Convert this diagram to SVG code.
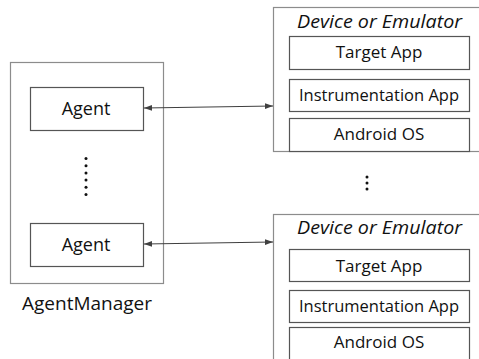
<svg xmlns="http://www.w3.org/2000/svg" width="479" height="359" viewBox="0 0 479 359">
  <style>
    .frame { fill: #ffffff; stroke: #8c8c8c; stroke-width: 1.2; }
    .box { fill: #ffffff; stroke: #555555; stroke-width: 1.2; }
    .label { font-family: "Open Sans", "Noto Sans", sans-serif; font-size: 17px; fill: #111111; text-anchor: middle; }
    .title { font-family: "Open Sans", "Noto Sans", sans-serif; font-size: 18.5px; font-style: italic; fill: #111111; text-anchor: middle; }
    .link { stroke: #404040; stroke-width: 1.1; fill: none; marker-start: url(#head); marker-end: url(#head); }
    .dot { fill: #111111; }
  </style>
  <defs>
    <marker id="head" viewBox="0 0 10 10" refX="10" refY="5" markerWidth="8" markerHeight="8" markerUnits="userSpaceOnUse" orient="auto-start-reverse">
      <path d="M0,1.5 L10,5 L0,8.5 Z" fill="#404040"/>
    </marker>
  </defs>

  <g id="agent-manager">
    <rect class="frame" x="10.5" y="62.5" width="153" height="221"/>
    <text class="label" x="87" y="310" style="font-size:18.5px" textLength="130" lengthAdjust="spacingAndGlyphs">AgentManager</text>
  </g>

  <g id="agent-1">
    <rect class="box" x="30.5" y="87.5" width="113" height="43"/>
    <text class="label" x="86" y="115" style="font-size:18px">Agent</text>
  </g>

  <g id="agent-dots">
    <circle class="dot" cx="86" cy="158.5" r="1.5"/>
    <circle class="dot" cx="86" cy="165.7" r="1.5"/>
    <circle class="dot" cx="86" cy="172.9" r="1.5"/>
    <circle class="dot" cx="86" cy="180.1" r="1.5"/>
    <circle class="dot" cx="86" cy="187.3" r="1.5"/>
    <circle class="dot" cx="86" cy="194.5" r="1.5"/>
  </g>

  <g id="agent-2">
    <rect class="box" x="30.5" y="223.5" width="113" height="43"/>
    <text class="label" x="86" y="251" style="font-size:18px">Agent</text>
  </g>

  <g id="device-1">
    <rect class="frame" x="273.5" y="7.5" width="230" height="144"/>
    <text class="title" x="379.5" y="28" textLength="165" lengthAdjust="spacingAndGlyphs">Device or Emulator</text>
    <rect class="box" x="289.5" y="36.5" width="180" height="33"/>
    <text class="label" x="379" y="58">Target App</text>
    <rect class="box" x="289.5" y="79.5" width="180" height="32"/>
    <text class="label" x="379" y="101" textLength="160" lengthAdjust="spacingAndGlyphs">Instrumentation App</text>
    <rect class="box" x="289.5" y="118.5" width="180" height="33"/>
    <text class="label" x="379" y="140">Android OS</text>
  </g>

  <g id="device-dots">
    <circle class="dot" cx="367" cy="177" r="1.5"/>
    <circle class="dot" cx="367" cy="183" r="1.5"/>
    <circle class="dot" cx="367" cy="189" r="1.5"/>
  </g>

  <g id="device-2">
    <rect class="frame" x="273.5" y="214.5" width="230" height="160"/>
    <text class="title" x="379.5" y="234" textLength="165" lengthAdjust="spacingAndGlyphs">Device or Emulator</text>
    <rect class="box" x="289.5" y="249.5" width="180" height="32"/>
    <text class="label" x="379" y="272">Target App</text>
    <rect class="box" x="289.5" y="290.5" width="180" height="32"/>
    <text class="label" x="379" y="312" textLength="160" lengthAdjust="spacingAndGlyphs">Instrumentation App</text>
    <rect class="box" x="289.5" y="327.5" width="180" height="40"/>
    <text class="label" x="379" y="348">Android OS</text>
  </g>

  <g id="connectors">
    <line class="link" x1="144" y1="108" x2="273" y2="106"/>
    <line class="link" x1="144" y1="244" x2="273" y2="242"/>
  </g>
</svg>
